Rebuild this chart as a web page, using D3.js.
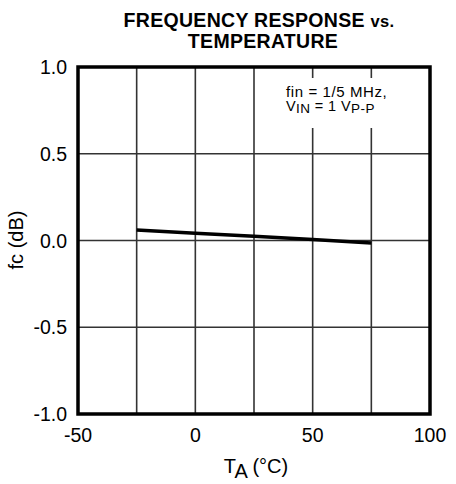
<!DOCTYPE html>
<html><head><meta charset="utf-8">
<script src="https://cdn.jsdelivr.net/npm/d3@7"></script>
<style>body{margin:0;background:#fff}svg{display:block}text{font-family:"Liberation Sans",Arial,sans-serif;fill:#000}</style>
</head><body>
<script>
const temps = [-25, 0, 25, 50, 75];
const fcValues = [0.06, 0.042, 0.025, 0.006, -0.015];
const xTicks = [-50, 0, 50, 100];
const xGrid = [-25, 0, 25, 50, 75];
const yTicks = [-1.0, -0.5, 0.0, 0.5, 1.0];
const yGrid = [-0.5, 0, 0.5];

const W = 456, H = 484;
const svg = d3.select("body").append("svg").attr("width", W).attr("height", H);
const x = d3.scaleLinear().domain([-50, 100]).range([78, 430]);
const y = d3.scaleLinear().domain([-1, 1]).range([414, 67]);

// grid
svg.append("g").selectAll("line").data(xGrid).join("line")
  .attr("x1", d => x(d)).attr("x2", d => x(d)).attr("y1", y(1)).attr("y2", y(-1))
  .attr("stroke", "#333").attr("stroke-width", 1.6);
svg.append("g").selectAll("line").data(yGrid).join("line")
  .attr("y1", d => y(d)).attr("y2", d => y(d)).attr("x1", x(-50)).attr("x2", x(100))
  .attr("stroke", "#333").attr("stroke-width", 1.6);

// annotation box
svg.append("rect").attr("x", 283).attr("y", 78).attr("width", 110).attr("height", 50).attr("fill", "#fff");
const a1 = svg.append("text").attr("x", 286).attr("y", 96.5).attr("font-size", 15).attr("letter-spacing", 0.6);
a1.text("fin = 1/5 MHz,");
const a2 = svg.append("text").attr("x", 286).attr("y", 111).attr("font-size", 14.5).attr("letter-spacing", 0.4);
a2.append("tspan").text("V");
a2.append("tspan").attr("dy", 1.5).attr("font-size", 13.5).text("IN");
a2.append("tspan").attr("dy", -1.5).text(" = 1 V");
a2.append("tspan").attr("dy", 1.5).attr("font-size", 13.5).text("P-P");

// border
svg.append("rect").attr("x", x(-50)).attr("y", y(1)).attr("width", x(100) - x(-50)).attr("height", y(-1) - y(1))
  .attr("fill", "none").attr("stroke", "#000").attr("stroke-width", 3.5);

// data line
svg.append("path").datum(temps.map((t, i) => [t, fcValues[i]]))
  .attr("d", d3.line().x(d => x(d[0])).y(d => y(d[1])))
  .attr("fill", "none").attr("stroke", "#000").attr("stroke-width", 3.5);

// tick labels
svg.append("g").selectAll("text").data(yTicks).join("text")
  .attr("x", 67).attr("y", d => y(d)).attr("dy", "0.36em").attr("text-anchor", "end")
  .attr("font-size", 19.5).text(d => d.toFixed(1));
svg.append("g").selectAll("text").data(xTicks).join("text")
  .attr("x", d => x(d)).attr("y", 442).attr("text-anchor", "middle")
  .attr("font-size", 19.5).text(d => d);

// axis titles
const xt = svg.append("text").attr("x", 256).attr("y", 473).attr("text-anchor", "middle").attr("font-size", 20);
xt.append("tspan").text("T");
xt.append("tspan").attr("dy", 5).text("A");
xt.append("tspan").attr("dy", -5).text(" (°C)");
svg.append("text").attr("transform", "translate(23,240) rotate(-90)").attr("text-anchor", "middle")
  .attr("font-size", 20).text("fc (dB)");

// title
const t1 = svg.append("text").attr("x", 259).attr("y", 26.5).attr("text-anchor", "middle")
  .attr("font-size", 19.5).attr("font-weight", "bold").attr("letter-spacing", 0.3);
t1.append("tspan").text("FREQUENCY RESPONSE ");
t1.append("tspan").attr("font-size", 16.5).text("vs.");
svg.append("text").attr("x", 263).attr("y", 48).attr("text-anchor", "middle")
  .attr("font-size", 19.5).attr("font-weight", "bold").attr("letter-spacing", 0.3).text("TEMPERATURE");
</script>
</body></html>
